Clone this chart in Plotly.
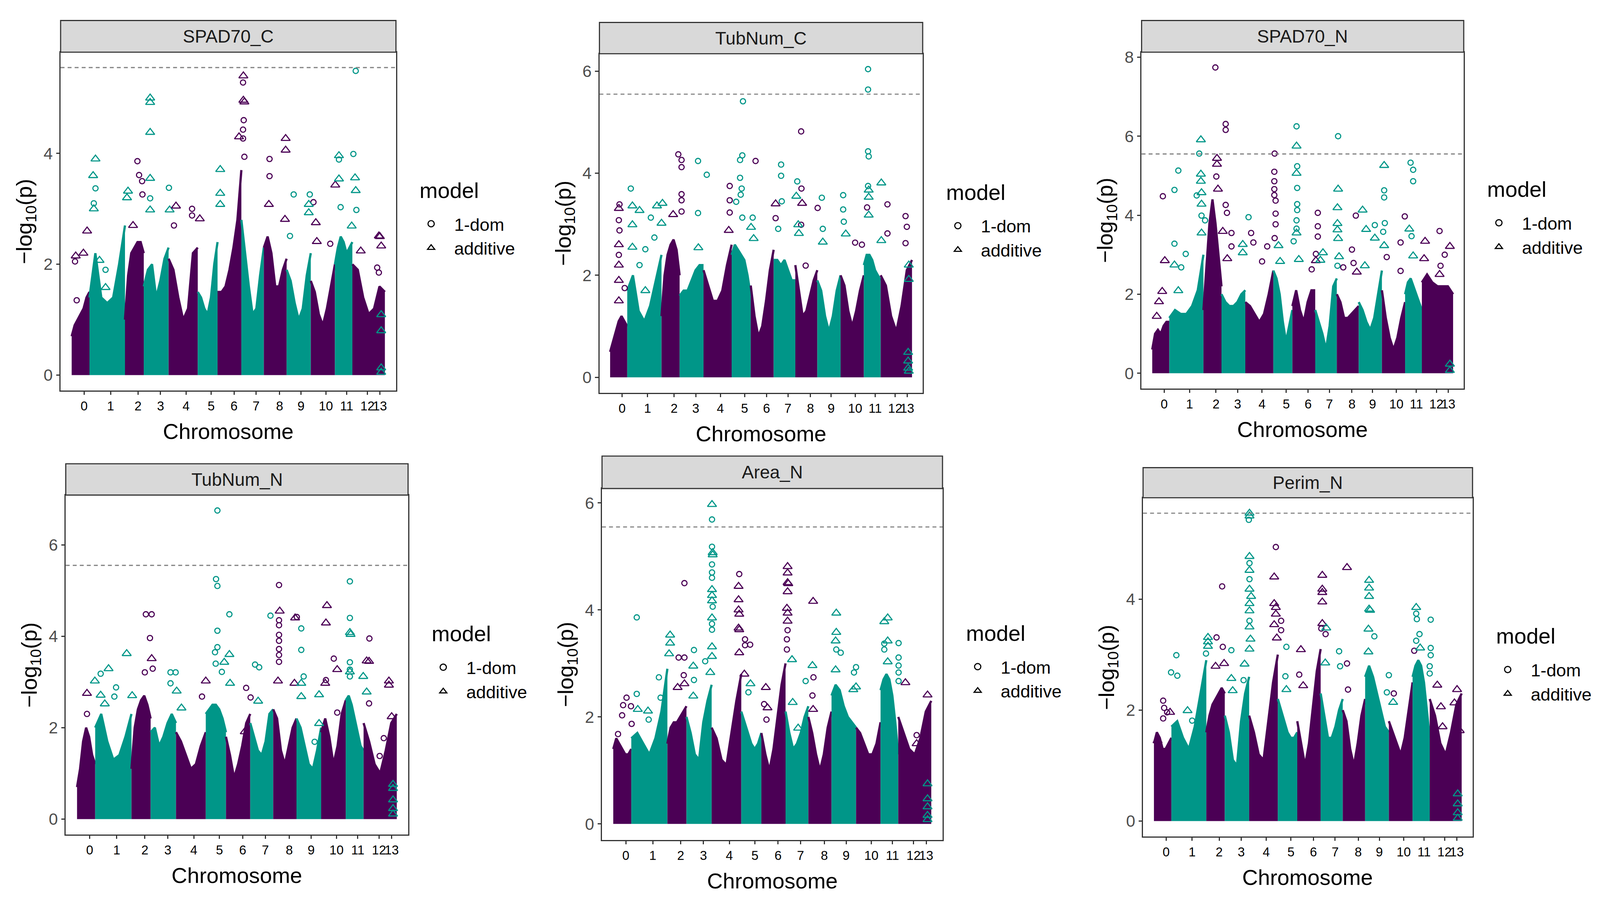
import plotly.graph_objects as go

W, H = 4356, 2320
# the page is captured in a 4096x2304 view, offset by the 8px body margin
VW, VH, OFF = 4096, 2304, 8
SX, SY = W / VW, H / VH
FW, FH = VW - OFF, VH - OFF
PURPLE = "#4B0055"
TEAL = "#009688"
FONT = "Liberation Sans, Arial, sans-serif"

# chromosome block edges on the 0-100 position scale, and where the labels sit
chrom_edges = [3.3, 8.6, 19.2, 24.8, 32.2, 40.9, 46.8, 53.9, 60.6, 67.4, 74.6, 81.8, 87.0, 96.7]
tick_pos = [7.0, 14.9, 23.1, 29.8, 37.4, 44.9, 51.7, 58.3, 65.3, 71.7, 79.1, 85.3, 91.5, 95.2]
tick_text = ["0", "1", "2", "3", "4", "5", "6", "7", "8", "9", "10", "11", "12", "13"]
threshold = 5.55

# upper edge of the dense cloud, chromosomes 0..12
spad70_c_env = [
    [0.7, 0.9, 1.0, 1.1, 1.2, 1.4, 1.5], [1.4, 2.2, 1.4, 1.3, 1.4, 2.0, 2.7],
    [1.0, 1.8, 2.2, 2.3, 2.4, 2.4, 2.2], [1.6, 1.9, 2.0, 1.4, 1.7, 2.1, 2.3],
    [2.1, 1.9, 1.4, 1.0, 1.2, 2.2, 2.3], [1.5, 1.4, 1.2, 1.1, 1.4, 2.0, 2.4],
    [1.5, 1.5, 1.6, 1.9, 2.3, 2.8, 3.7], [2.8, 2.2, 1.6, 1.1, 1.2, 1.8, 2.3],
    [2.3, 2.5, 2.2, 1.6, 1.6, 1.9, 2.1], [1.9, 1.7, 1.3, 1.0, 1.2, 1.8, 2.2],
    [1.7, 1.5, 1.1, 0.9, 1.2, 1.6, 2.0], [2.0, 2.3, 2.5, 2.4, 2.2, 2.3, 2.4],
    [2.0, 1.9, 1.4, 1.1, 1.2, 1.6, 1.5],
]
tubnum_c_env = [
    [0.5, 0.7, 0.9, 1.1, 1.2, 1.1, 1.0], [1.7, 2.0, 1.3, 1.1, 1.4, 1.9, 2.4],
    [1.2, 2.0, 2.4, 2.6, 2.7, 2.5, 2.0], [1.6, 1.7, 1.7, 1.9, 2.1, 2.2, 2.2],
    [2.1, 1.8, 1.5, 1.5, 1.7, 2.2, 2.6], [2.4, 2.6, 2.5, 2.4, 2.3, 2.0, 1.6],
    [1.8, 1.2, 0.8, 1.0, 1.5, 2.1, 2.5], [2.3, 2.3, 2.2, 2.3, 2.1, 1.9, 1.9],
    [2.2, 1.7, 1.2, 1.3, 1.6, 1.9, 2.1], [1.9, 1.7, 1.2, 0.9, 1.2, 1.7, 2.0],
    [2.0, 1.8, 1.3, 1.0, 1.3, 1.7, 2.0], [2.2, 2.4, 2.4, 2.3, 2.1, 2.0, 1.9],
    [2.0, 1.8, 1.2, 0.9, 1.4, 2.1, 2.3],
]
spad70_n_env = [
    [0.6, 1.0, 1.1, 1.0, 1.2, 1.3, 1.3], [1.4, 1.6, 1.5, 1.5, 1.7, 2.1, 3.0],
    [1.6, 2.8, 3.8, 4.4, 3.8, 3.0, 2.2], [2.0, 1.8, 1.7, 1.7, 1.8, 2.0, 2.1],
    [1.8, 1.7, 1.5, 1.3, 1.5, 2.0, 2.6], [2.6, 2.4, 2.0, 1.3, 0.8, 1.2, 1.6],
    [1.7, 2.1, 1.6, 1.3, 1.8, 2.1, 2.1], [1.6, 1.3, 1.0, 0.6, 1.2, 2.2, 2.4],
    [2.0, 1.8, 1.4, 1.4, 1.5, 1.6, 1.7], [1.8, 1.6, 1.3, 1.1, 1.4, 2.0, 2.6],
    [2.1, 1.4, 0.9, 0.6, 0.9, 1.4, 1.8], [2.0, 2.3, 2.4, 2.2, 2.0, 1.8, 1.6],
    [2.3, 2.5, 2.3, 2.2, 2.2, 2.2, 2.0],
]
tubnum_n_env = [
    [0.7, 1.1, 1.7, 2.0, 1.8, 1.4, 1.2], [2.0, 2.3, 1.7, 1.3, 1.4, 1.8, 2.3],
    [1.1, 2.0, 2.4, 2.6, 2.7, 2.5, 2.2], [1.9, 2.0, 1.6, 1.8, 2.1, 2.3, 2.1],
    [1.9, 1.7, 1.4, 1.1, 1.2, 1.6, 1.9], [2.3, 2.4, 2.5, 2.5, 2.4, 2.2, 1.9],
    [1.8, 1.4, 0.9, 1.2, 1.6, 2.1, 2.3], [2.1, 1.8, 1.5, 1.4, 1.7, 2.3, 2.4],
    [2.4, 2.2, 1.5, 1.2, 1.6, 2.0, 2.2], [2.2, 2.0, 1.6, 1.2, 1.1, 1.5, 2.0],
    [1.9, 2.2, 1.8, 1.2, 1.6, 2.3, 2.6], [2.6, 2.7, 2.5, 2.2, 1.9, 1.6, 1.5],
    [2.1, 1.7, 1.2, 1.0, 1.5, 2.1, 2.3],
]
area_n_env = [
    [1.4, 1.6, 1.5, 1.4, 1.3, 1.3, 1.4], [1.6, 1.7, 1.5, 1.3, 1.6, 2.1, 2.9],
    [1.5, 1.8, 1.9, 1.9, 2.0, 2.1, 2.2], [2.0, 1.7, 1.3, 1.2, 1.9, 2.3, 2.6],
    [1.8, 1.6, 1.2, 1.1, 1.7, 2.3, 2.8], [2.1, 1.9, 1.7, 1.5, 1.4, 1.5, 1.7],
    [1.7, 1.3, 1.0, 1.4, 2.0, 2.6, 3.0], [2.1, 1.7, 1.4, 1.5, 1.7, 2.0, 2.2],
    [2.0, 1.7, 1.3, 1.0, 1.3, 1.8, 2.1], [2.4, 2.6, 2.5, 2.2, 2.0, 1.9, 1.8],
    [1.8, 1.7, 1.5, 1.3, 1.3, 1.5, 1.9], [2.5, 2.7, 2.8, 2.7, 2.4, 1.9, 1.3],
    [2.0, 1.7, 1.4, 1.3, 1.6, 2.1, 2.3],
]
perim_n_env = [
    [1.4, 1.6, 1.5, 1.3, 1.3, 1.4, 1.5], [1.7, 1.8, 1.5, 1.3, 1.7, 2.3, 2.9],
    [1.6, 1.9, 2.1, 2.2, 2.3, 2.4, 2.3], [1.9, 1.6, 1.1, 1.0, 1.8, 2.3, 2.6],
    [1.9, 1.6, 1.2, 1.1, 1.8, 2.5, 3.0], [2.2, 2.0, 1.8, 1.6, 1.5, 1.5, 1.6],
    [1.8, 1.4, 1.0, 1.4, 2.1, 2.7, 3.1], [2.3, 1.9, 1.5, 1.5, 1.7, 2.0, 2.2],
    [2.0, 1.8, 1.3, 1.0, 1.4, 1.9, 2.2], [2.6, 2.8, 2.6, 2.3, 2.0, 1.7, 1.6],
    [1.8, 1.6, 1.4, 1.2, 1.5, 2.0, 2.5], [2.6, 2.8, 2.9, 2.8, 2.5, 2.0, 1.5],
    [2.2, 1.9, 1.4, 1.2, 1.6, 2.1, 2.3],
]

# stand-out SNPs: (position, -log10 p, chromosome)
spad70_c_dom = [
    (4.3, 2.05, 0), (4.8, 1.35, 0), (10.4, 3.37, 1), (9.9, 3.1, 1), (13.4, 1.9, 1),
    (22.9, 3.86, 2), (23.4, 3.61, 2), (24.3, 3.5, 2), (24.4, 3.26, 2),
    (26.7, 3.19, 3), (32.3, 3.38, 3), (33.8, 2.7, 4), (39.2, 3.0, 4), (39.2, 2.88, 4),
    (54.4, 5.28, 6), (54.6, 4.6, 6), (54.4, 4.43, 6), (54.4, 4.27, 6), (54.8, 3.94, 6),
    (62.3, 3.9, 8), (62.3, 3.59, 8), (69.5, 3.26, 9), (68.4, 2.51, 9), (74.3, 3.26, 9),
    (75.4, 3.12, 10), (80.4, 2.37, 10), (83.0, 3.89, 11), (83.5, 3.03, 11),
    (88.0, 5.49, 11), (87.3, 3.99, 11), (88.2, 2.98, 11), (94.4, 1.94, 12), (94.9, 1.85, 12),
]
spad70_c_add = [
    (4.5, 2.15, 0), (6.8, 2.2, 0), (7.9, 2.6, 0),
    (10.4, 3.9, 1), (9.7, 3.6, 1), (9.9, 3.0, 1), (11.6, 2.07, 1), (13.4, 1.58, 1),
    (20.1, 3.32, 1), (19.8, 3.2, 1), (21.6, 2.7, 2),
    (26.7, 5.0, 3), (26.7, 4.92, 3), (26.7, 4.38, 3), (26.7, 3.55, 3), (26.7, 2.98, 3), (32.5, 2.98, 3),
    (34.4, 3.05, 4), (41.5, 2.82, 4), (47.6, 3.71, 5), (47.6, 3.28, 5), (47.6, 3.08, 5),
    (54.5, 5.4, 6), (54.5, 4.96, 6), (54.8, 4.93, 6), (53.2, 4.3, 6),
    (62.1, 3.08, 8), (67.1, 4.27, 8), (67.1, 4.06, 8), (66.9, 2.81, 8),
    (74.0, 3.08, 9), (74.0, 2.93, 9), (76.1, 2.75, 10), (76.4, 2.41, 10), (81.9, 3.43, 10),
    (83.0, 3.96, 11), (83.0, 3.54, 11), (87.8, 3.56, 11), (88.0, 3.33, 11), (86.8, 2.69, 11),
    (89.5, 2.24, 12), (95.2, 2.5, 12), (95.6, 2.33, 12), (94.9, 2.51, 12),
    (95.6, 1.09, 13), (95.6, 0.8, 13), (95.6, 0.13, 13), (95.6, 0.05, 13),
]
tubnum_c_dom = [
    (6.2, 3.39, 0), (6.0, 3.08, 0), (6.2, 2.88, 0), (6.0, 2.4, 0), (7.8, 1.75, 0),
    (9.7, 3.7, 1), (12.4, 2.2, 1), (14.2, 2.51, 1), (15.9, 3.13, 1), (17.0, 2.74, 1),
    (24.4, 4.37, 2), (25.4, 4.26, 2), (25.4, 4.12, 2), (25.4, 3.59, 2), (25.4, 3.47, 2), (25.4, 3.25, 2),
    (30.5, 4.24, 3), (30.5, 3.22, 3), (33.2, 3.97, 3), (40.3, 3.75, 4), (40.3, 3.47, 4), (40.3, 3.23, 4),
    (44.4, 5.41, 5), (44.2, 4.35, 5), (43.5, 4.26, 5), (43.5, 3.91, 5), (44.0, 3.7, 5), (43.7, 3.58, 5),
    (42.3, 3.44, 5), (44.2, 3.13, 5), (47.4, 3.13, 5), (48.3, 4.24, 6), (54.5, 3.12, 6),
    (56.2, 4.17, 7), (56.2, 3.95, 7), (56.4, 3.45, 7), (55.3, 2.91, 7), (61.2, 3.84, 7),
    (62.4, 4.82, 8), (62.5, 3.7, 8), (62.4, 2.99, 8), (63.8, 2.19, 8), (67.5, 3.32, 8),
    (68.8, 3.52, 9), (69.1, 2.91, 9), (75.4, 3.57, 9), (75.4, 3.29, 9), (75.6, 3.05, 9),
    (79.1, 2.64, 10), (81.2, 2.6, 10), (82.8, 3.33, 10),
    (83.1, 6.04, 11), (83.1, 5.64, 11), (83.1, 4.43, 11), (83.3, 4.33, 11), (83.1, 3.75, 11),
    (89.1, 3.39, 12), (89.1, 2.82, 12), (94.7, 3.16, 12), (95.1, 2.95, 12), (94.7, 2.63, 12),
]
tubnum_c_add = [
    (6.0, 3.31, 0), (6.0, 2.6, 0), (6.0, 2.2, 0), (6.0, 1.9, 0), (6.0, 1.5, 0),
    (10.2, 3.36, 1), (10.2, 2.99, 1), (10.2, 2.55, 1), (12.4, 3.27, 1), (14.2, 1.7, 1),
    (17.8, 3.36, 1), (19.5, 3.41, 1), (19.2, 3.02, 1), (22.8, 3.19, 2), (30.6, 2.54, 3),
    (40.0, 2.88, 4), (46.9, 2.94, 5), (47.7, 2.72, 5), (54.5, 3.4, 6),
    (60.9, 3.55, 7), (61.5, 2.99, 7), (61.7, 2.82, 7), (62.7, 3.41, 8), (69.1, 2.65, 9), (76.2, 2.81, 9),
    (83.3, 3.67, 11), (83.3, 3.53, 11), (83.3, 3.18, 11), (87.2, 3.81, 11), (87.2, 2.68, 11),
    (95.7, 2.2, 13), (95.7, 1.92, 13), (95.5, 0.49, 13), (95.5, 0.32, 13), (95.5, 0.18, 13), (95.7, 0.12, 13),
]
spad70_n_dom = [
    (6.6, 4.48, 0), (10.2, 4.64, 1), (11.4, 5.13, 1), (10.2, 3.28, 1), (12.3, 2.68, 1), (13.7, 3.02, 1),
    (17.9, 5.56, 1), (17.1, 4.5, 1), (18.6, 3.99, 1), (19.7, 3.87, 1),
    (22.9, 7.74, 2), (23.2, 4.98, 2), (26.1, 6.31, 2), (26.1, 6.16, 2), (26.1, 4.26, 2), (26.5, 4.06, 2),
    (27.9, 3.55, 2), (27.9, 3.21, 2), (33.2, 3.95, 3),
    (34.0, 3.55, 4), (34.7, 3.31, 4), (37.4, 2.83, 4), (39.0, 3.21, 4), (41.3, 5.56, 4), (41.2, 5.1, 4),
    (41.2, 4.86, 4), (41.2, 4.66, 4), (41.2, 4.51, 4), (41.6, 4.37, 4), (41.6, 4.04, 4), (41.6, 3.77, 4), (41.3, 3.42, 4),
    (48.1, 6.25, 5), (48.3, 5.24, 5), (48.3, 4.69, 5), (48.3, 4.28, 5), (48.3, 4.13, 5), (48.1, 3.87, 5),
    (48.1, 3.66, 5), (47.2, 3.34, 5),
    (54.7, 4.06, 6), (54.7, 3.72, 6), (54.7, 3.46, 6), (54.1, 3.02, 6), (52.8, 2.63, 6),
    (61.0, 6.0, 7), (60.8, 2.72, 7), (62.6, 2.68, 8), (66.5, 3.99, 8), (65.3, 3.13, 8), (65.8, 2.79, 8),
    (72.4, 3.75, 9), (75.3, 4.63, 9), (75.3, 4.45, 9), (75.5, 3.8, 9), (75.0, 3.58, 9),
    (76.1, 2.94, 10), (81.7, 3.97, 10), (80.4, 3.31, 10), (80.4, 2.59, 10),
    (83.5, 5.33, 11), (84.3, 5.15, 11), (84.3, 4.86, 11), (83.8, 3.47, 11),
    (92.5, 3.6, 12), (92.8, 2.72, 12), (94.1, 3.0, 12),
]
spad70_n_add = [
    (6.4, 2.07, 0), (5.4, 1.81, 0), (4.7, 1.44, 0), (7.2, 2.85, 0),
    (10.2, 2.74, 1), (11.4, 2.09, 1), (18.4, 5.91, 1), (18.4, 5.04, 1), (18.4, 4.86, 1),
    (18.6, 4.57, 1), (18.6, 4.28, 1), (18.6, 3.55, 1),
    (23.4, 5.44, 2), (23.4, 5.29, 2), (23.7, 4.66, 2), (25.2, 3.59, 2), (26.6, 2.9, 2),
    (31.4, 3.26, 3), (31.4, 3.05, 3), (42.5, 3.23, 5), (43.0, 2.83, 5),
    (48.1, 5.75, 5), (48.1, 5.06, 5), (48.1, 3.55, 5), (48.8, 2.88, 5), (54.1, 2.85, 6),
    (56.3, 3.05, 7), (55.5, 2.86, 7), (61.0, 4.66, 7), (60.8, 4.19, 7), (60.8, 3.79, 7),
    (60.8, 3.63, 7), (61.0, 3.41, 7), (61.3, 2.95, 7), (66.8, 2.56, 8),
    (68.6, 4.13, 9), (69.7, 3.64, 9), (72.4, 3.42, 9), (69.3, 2.72, 9), (75.3, 5.26, 9), (75.3, 3.23, 9),
    (83.1, 3.65, 11), (84.3, 2.97, 11),
    (95.7, 3.21, 12), (92.5, 2.5, 12), (88.0, 3.34, 12), (87.7, 2.9, 12),
    (95.7, 0.23, 13), (95.7, 0.07, 13),
]
tubnum_n_dom = [
    (6.2, 2.3, 0), (10.2, 3.18, 1), (14.7, 2.88, 1), (14.2, 2.68, 1),
    (23.4, 4.48, 2), (25.1, 4.48, 2), (24.6, 3.96, 2), (25.4, 3.29, 2), (23.1, 3.21, 2),
    (30.6, 3.21, 3), (32.1, 3.21, 3), (30.6, 2.97, 3), (39.8, 2.68, 4),
    (44.3, 6.75, 5), (43.9, 5.25, 5), (44.3, 5.1, 5), (47.8, 4.48, 5), (44.3, 4.12, 5),
    (44.3, 3.76, 5), (43.6, 3.65, 5), (43.8, 3.4, 5), (45.6, 3.22, 5),
    (52.7, 2.87, 6), (54.0, 2.66, 6), (55.3, 3.38, 7), (56.5, 3.32, 7), (59.8, 4.45, 7),
    (62.3, 5.12, 8), (62.3, 4.35, 8), (62.3, 4.24, 8), (62.3, 4.03, 8), (62.3, 3.9, 8),
    (62.3, 3.72, 8), (62.3, 3.59, 8), (62.3, 3.44, 8), (67.5, 4.42, 8),
    (68.8, 4.17, 9), (68.8, 3.7, 9), (69.5, 3.12, 9), (72.7, 1.69, 9),
    (76.0, 3.04, 10), (78.3, 3.51, 10), (79.3, 2.33, 10),
    (83.0, 5.2, 11), (83.0, 4.4, 11), (83.0, 3.43, 11), (83.0, 3.27, 11), (83.0, 3.12, 11),
    (88.7, 3.95, 12), (88.6, 2.53, 12), (92.9, 1.77, 12), (91.7, 1.38, 12),
]
tubnum_n_add = [
    (6.2, 2.75, 0), (8.5, 3.02, 1), (12.5, 3.29, 1), (10.2, 2.71, 1), (11.4, 2.52, 1),
    (17.8, 3.62, 1), (19.4, 2.7, 1), (25.1, 3.51, 2), (32.4, 2.8, 3), (33.8, 2.43, 3),
    (40.9, 3.02, 4), (47.8, 3.6, 5), (46.3, 3.43, 5), (48.0, 2.97, 5), (52.3, 1.91, 6), (56.2, 2.58, 7),
    (62.5, 4.55, 8), (62.0, 3.02, 8), (67.0, 4.4, 8), (66.8, 2.97, 8),
    (68.8, 2.97, 9), (68.8, 2.68, 9), (74.0, 2.72, 9), (74.0, 2.09, 9),
    (76.3, 4.67, 10), (76.0, 4.29, 10), (75.8, 2.97, 10), (79.3, 3.27, 10),
    (83.0, 4.08, 11), (83.2, 4.04, 11), (83.0, 3.22, 11), (86.9, 3.12, 11), (87.9, 2.78, 11),
    (87.9, 3.46, 12), (88.6, 3.45, 12), (94.4, 3.02, 12), (94.4, 2.93, 12), (95.2, 2.24, 12),
    (95.6, 0.76, 13), (95.6, 0.67, 13), (95.6, 0.42, 13), (95.6, 0.23, 13), (95.6, 0.11, 13),
]
area_n_dom = [
    (4.7, 1.68, 0), (5.9, 2.03, 0), (6.2, 2.22, 0), (7.2, 2.36, 0), (8.5, 2.2, 0), (8.7, 1.87, 0),
    (10.2, 3.86, 1), (10.2, 2.43, 1), (13.7, 1.95, 1), (16.7, 2.74, 1), (17.2, 2.36, 1),
    (22.5, 3.11, 2), (24.2, 3.11, 2), (24.2, 4.5, 2), (24.0, 2.78, 2),
    (27.0, 3.25, 3), (27.0, 2.69, 3), (32.3, 5.69, 3), (32.3, 5.18, 3), (32.3, 4.85, 3), (32.3, 4.7, 3),
    (32.3, 4.6, 3), (32.5, 4.06, 3), (32.3, 3.74, 3), (32.3, 3.63, 3), (30.3, 3.04, 3),
    (40.3, 4.67, 4), (42.0, 3.45, 4), (42.0, 3.34, 4), (43.5, 3.35, 4), (43.0, 2.46, 5),
    (47.6, 2.24, 6), (48.3, 1.95, 6), (54.5, 3.62, 6), (54.3, 3.45, 6), (54.3, 3.26, 6),
    (59.8, 2.67, 7), (62.1, 2.74, 8), (61.8, 2.4, 8),
    (68.8, 3.26, 9), (70.1, 3.2, 9), (74.6, 2.93, 9), (74.0, 2.83, 9),
    (82.9, 3.37, 11), (82.9, 3.26, 11), (87.1, 3.38, 11), (87.1, 3.11, 11), (87.1, 2.96, 11),
    (87.1, 2.83, 11), (87.1, 2.67, 11), (92.4, 1.66, 12),
]
area_n_add = [
    (10.5, 2.14, 1), (13.5, 2.11, 1), (20.0, 3.53, 1), (20.0, 3.38, 1), (19.7, 3.18, 1),
    (24.2, 2.62, 2), (22.2, 2.55, 2), (26.8, 2.95, 3), (26.8, 2.39, 3),
    (32.3, 5.97, 3), (32.5, 5.07, 3), (32.5, 5.03, 3), (32.3, 4.38, 3), (32.3, 4.27, 3), (32.3, 4.17, 3),
    (32.3, 3.85, 3), (32.3, 3.31, 3), (32.3, 3.13, 3), (31.8, 2.83, 3),
    (40.1, 4.44, 4), (40.1, 4.19, 4), (40.1, 4.0, 4), (40.3, 3.92, 4), (40.1, 3.66, 4),
    (40.3, 3.63, 4), (40.3, 3.2, 4), (41.8, 2.8, 4), (43.6, 2.62, 5),
    (48.1, 2.55, 6), (48.6, 2.17, 6), (54.5, 4.81, 6), (54.5, 4.69, 6), (54.5, 4.51, 6),
    (54.7, 4.49, 6), (54.5, 4.34, 6), (54.3, 4.03, 6), (54.5, 3.94, 6), (54.5, 3.79, 6),
    (55.8, 3.07, 7), (56.0, 2.27, 7), (57.6, 1.79, 7), (61.8, 2.96, 7), (62.0, 4.16, 8), (62.0, 2.14, 8),
    (68.8, 3.94, 9), (68.8, 3.58, 9), (68.6, 3.42, 9), (68.6, 2.88, 9), (74.6, 2.56, 9), (73.8, 2.51, 9),
    (82.9, 3.78, 11), (83.9, 3.85, 11), (83.9, 3.42, 11), (83.9, 3.03, 11),
    (89.1, 2.64, 12), (92.4, 1.5, 12), (95.6, 2.41, 12),
    (95.6, 0.75, 13), (95.6, 0.47, 13), (95.6, 0.32, 13), (95.6, 0.16, 13), (95.6, 0.08, 13),
]
perim_n_dom = [
    (6.1, 2.17, 0), (6.4, 2.04, 0), (6.1, 1.85, 0), (7.3, 1.96, 0),
    (10.1, 2.99, 1), (8.5, 2.68, 1), (10.4, 2.62, 1), (14.9, 1.81, 1), (19.1, 3.02, 1),
    (22.3, 3.31, 2), (24.0, 4.23, 2), (24.2, 3.14, 2),
    (26.8, 3.08, 3), (32.1, 5.43, 3), (32.3, 4.65, 3), (32.3, 4.36, 3), (32.3, 3.61, 3), (30.5, 2.54, 3),
    (40.3, 4.94, 4), (41.9, 3.61, 4), (41.9, 3.44, 4), (43.5, 3.14, 5), (43.2, 2.61, 5),
    (47.4, 2.64, 6), (54.1, 3.47, 6), (55.4, 3.37, 6), (59.5, 3.06, 7), (59.8, 2.79, 7),
    (61.9, 2.84, 8), (62.2, 2.37, 8), (70.2, 3.33, 9), (74.6, 2.63, 9), (74.0, 2.32, 9),
    (76.1, 2.3, 10), (82.3, 3.07, 10),
    (82.9, 3.74, 11), (83.1, 3.64, 11), (83.9, 3.37, 11), (82.9, 3.25, 11), (87.3, 3.63, 11),
    (87.3, 3.12, 11), (87.3, 2.99, 11), (87.0, 2.79, 11), (87.0, 2.66, 11),
]
perim_n_add = [
    (8.2, 1.96, 0), (4.4, 1.45, 0), (13.5, 1.99, 1), (19.7, 3.31, 1), (19.7, 3.23, 1), (19.7, 3.15, 1),
    (22.0, 2.79, 2), (24.6, 2.84, 2), (26.8, 2.57, 3), (27.2, 2.35, 3),
    (32.3, 5.55, 3), (32.3, 5.5, 3), (32.3, 4.77, 3), (32.3, 4.52, 3), (32.3, 4.18, 3), (32.8, 4.05, 3),
    (32.3, 3.92, 3), (32.3, 3.79, 3), (32.3, 3.5, 3), (32.6, 3.28, 3), (32.3, 3.1, 3), (30.8, 2.83, 3),
    (39.8, 4.4, 4), (39.8, 3.92, 4), (40.3, 3.85, 4), (40.3, 3.73, 4), (39.8, 3.54, 4), (40.6, 3.3, 4),
    (43.5, 2.37, 5), (47.9, 3.09, 6), (48.6, 2.44, 6),
    (54.4, 4.43, 6), (54.4, 4.18, 6), (54.4, 4.12, 6), (54.4, 3.95, 6), (54.4, 3.56, 6),
    (55.6, 3.48, 7), (55.3, 2.85, 7), (61.9, 4.57, 8),
    (68.6, 4.34, 9), (68.6, 4.2, 9), (68.6, 4.05, 9), (68.6, 3.82, 9), (68.9, 3.8, 9),
    (68.4, 3.46, 9), (68.4, 3.05, 9), (75.9, 2.14, 9), (82.9, 3.85, 11), (84.1, 3.12, 11),
    (89.3, 2.45, 12), (90.4, 2.06, 12), (90.9, 1.7, 12), (95.3, 2.37, 12), (94.5, 2.13, 12), (96.1, 1.63, 12),
    (95.5, 0.49, 13), (95.5, 0.31, 13), (95.5, 0.15, 13), (95.5, 0.05, 13),
]

# panel boxes in pixels of the reference picture: left, right, plot top, plot bottom, strip top
panels = [
    ("SPAD70_C", spad70_c_env, spad70_c_dom, spad70_c_add, (165, 1078, 125, 1001, 43)),
    ("TubNum_C", tubnum_c_env, tubnum_c_dom, tubnum_c_add, (1632, 2512, 129, 1007, 48)),
    ("SPAD70_N", spad70_n_env, spad70_n_dom, spad70_n_add, (3108, 3985, 125, 996, 43)),
    ("TubNum_N", tubnum_n_env, tubnum_n_dom, tubnum_n_add, (179, 1111, 1272, 2151, 1191)),
    ("Area_N", area_n_env, area_n_dom, area_n_add, (1639, 2566, 1255, 2165, 1171)),
    ("Perim_N", perim_n_env, perim_n_dom, perim_n_add, (3112, 4009, 1279, 2156, 1201)),
]


def fx(px):
    return (px / SX - OFF) / FW


def fy(py):
    return 1 - (py / SY - OFF) / FH


def sz(v):
    return v / 1.04


def chrom_color(c):
    return PURPLE if c % 2 == 0 else TEAL


def text_note(text, x, y, size, color="black", angle=0, xanchor="center"):
    return dict(text=text, xref="paper", yref="paper", x=x, y=y, showarrow=False,
                xanchor=xanchor, yanchor="middle", textangle=angle,
                font=dict(size=sz(size), color=color, family=FONT))


fig = go.Figure()
shapes = []
annotations = []
layout = {}

for n, (name, env, dom, add, box) in enumerate(panels, start=1):
    left, right, top, bottom, strip_top = box
    sfx = "" if n == 1 else str(n)
    xa, ya = "x" + sfx, "y" + sfx
    lg = "legend" + sfx
    mid = (top + bottom) / 2

    # dense body of each chromosome
    for c, heights in enumerate(env):
        a, b = chrom_edges[c], chrom_edges[c + 1]
        xs = [a + (b - a) * j / (len(heights) - 1) for j in range(len(heights))]
        col = chrom_color(c)
        fig.add_trace(go.Scatter(
            x=xs, y=heights, mode="lines", fill="tozeroy", fillcolor=col,
            line=dict(color=col, width=sz(6)), xaxis=xa, yaxis=ya,
            showlegend=False, hoverinfo="skip"))

    # individual SNPs
    for pts, sym, size in ((dom, "circle-open", 14), (add, "triangle-up-open", 21)):
        fig.add_trace(go.Scatter(
            x=[p[0] for p in pts], y=[p[1] for p in pts], mode="markers",
            marker=dict(symbol=sym, size=sz(size), color=[chrom_color(p[2]) for p in pts],
                        line=dict(width=sz(3))),
            xaxis=xa, yaxis=ya, showlegend=False))

    # legend entries
    for label, sym in (("1-dom", "circle-open"), ("additive", "triangle-up-open")):
        fig.add_trace(go.Scatter(
            x=[None], y=[None], mode="markers", name=label,
            marker=dict(symbol=sym, size=16, color="black", line=dict(width=sz(3))),
            xaxis=xa, yaxis=ya, legend=lg, showlegend=True))

    top_val = max([p[1] for p in dom + add] + [threshold])
    layout["xaxis" + sfx] = dict(
        domain=[fx(left), fx(right)], anchor=ya, range=[0, 100],
        tickvals=tick_pos, ticktext=tick_text, tickangle=0,
        ticks="outside", ticklen=sz(9), tickwidth=sz(3), tickcolor="#333333",
        tickfont=dict(size=sz(34), color="black", family=FONT),
        showgrid=False, zeroline=False, showline=True, mirror=True,
        linecolor="#333333", linewidth=sz(3))
    layout["yaxis" + sfx] = dict(
        domain=[fy(bottom), fy(top)], anchor=xa, range=[-0.05 * top_val, 1.05 * top_val],
        tick0=0, dtick=2, ticks="outside", ticklen=sz(9), tickwidth=sz(3), tickcolor="#333333",
        tickfont=dict(size=sz(44), color="#4D4D4D", family=FONT),
        showgrid=False, zeroline=False, showline=True, mirror=True,
        linecolor="#333333", linewidth=sz(3))
    layout[lg] = dict(
        x=fx(right + 33), y=fy(mid - 30), xanchor="left", yanchor="top",
        font=dict(size=sz(47), color="black", family=FONT),
        bgcolor="rgba(0,0,0,0)", itemwidth=108, tracegroupgap=0)

    # significance threshold
    shapes.append(dict(type="line", xref=xa + " domain", yref=ya, x0=0, x1=1,
                       y0=threshold, y1=threshold,
                       line=dict(color="#808080", width=sz(3), dash="10px,8px")))
    # facet strip
    shapes.append(dict(type="rect", xref="paper", yref="paper", x0=fx(left), x1=fx(right),
                       y0=fy(top), y1=fy(strip_top), fillcolor="#D9D9D9",
                       line=dict(color="#333333", width=sz(3)), layer="above"))
    cx = fx((left + right) / 2)
    annotations.append(text_note(name, cx, fy((strip_top + top) / 2), 48, "#1A1A1A"))
    annotations.append(text_note("Chromosome", cx, fy(bottom + 106), 58))
    annotations.append(text_note("\u2212log<sub>10</sub>(p)", fx(left - 95), fy(mid), 58, angle=-90))
    annotations.append(text_note("model", fx(right + 62), fy(mid - 80), 58, xanchor="left"))

fig.update_layout(
    width=FW, height=FH, margin=dict(l=0, r=0, t=0, b=0),
    paper_bgcolor="white", plot_bgcolor="white",
    font=dict(family=FONT), shapes=shapes, annotations=annotations, **layout)

fig.write_html("out.html")
